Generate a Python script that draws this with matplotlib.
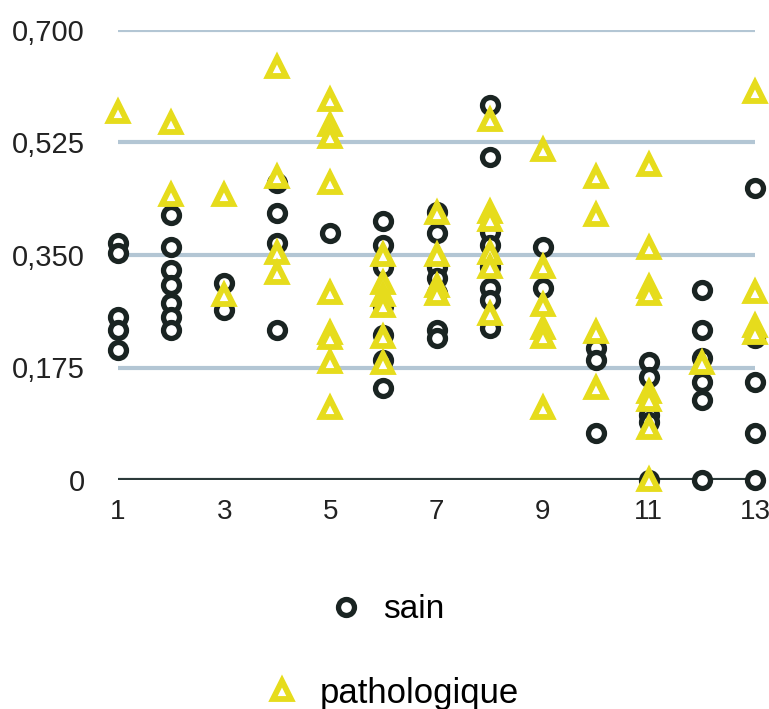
import matplotlib
matplotlib.use("Agg")
import matplotlib.pyplot as plt
from matplotlib.lines import Line2D

plt.rcParams['font.family'] = ['Liberation Sans', 'DejaVu Sans']

# ---- data ----
sain_x = ([1]*5 + [2]*7 + [3]*2 + [4]*4 + [5]*1 + [6]*7 + [7]*7 + [8]*8 +
          [9]*2 + [10]*3 + [11]*5 + [12]*6 + [13]*5)
sain_y = [0.369, 0.353, 0.254, 0.233, 0.202,
          0.412, 0.362, 0.327, 0.303, 0.275, 0.254, 0.233,
          0.306, 0.264,
          0.462, 0.415, 0.369, 0.233,
          0.384,
          0.403, 0.366, 0.332, 0.270, 0.226, 0.187, 0.143,
          0.417, 0.384, 0.332, 0.314, 0.291, 0.233, 0.221,
          0.583, 0.503, 0.386, 0.366, 0.332, 0.299, 0.280, 0.236,
          0.363, 0.299,
          0.205, 0.187, 0.073,
          0.184, 0.161, 0.101, 0.091, 0.0,
          0.296, 0.233, 0.190, 0.152, 0.124, 0.0,
          0.454, 0.221, 0.152, 0.073, 0.0]

patho_x = ([1]*1 + [2]*2 + [3]*2 + [4]*4 + [5]*9 + [6]*6 + [7]*4 + [8]*6 +
           [9]*6 + [10]*4 + [11]*8 + [12]*1 + [13]*4)
patho_y = [0.573,
           0.555, 0.443,
           0.443, 0.288,
           0.643, 0.472, 0.353, 0.322,
           0.591, 0.552, 0.534, 0.462, 0.291, 0.229, 0.221, 0.184, 0.112,
           0.350, 0.306, 0.288, 0.270, 0.223, 0.182,
           0.415, 0.350, 0.302, 0.290,
           0.560, 0.417, 0.404, 0.353, 0.332, 0.259,
           0.513, 0.332, 0.272, 0.236, 0.222, 0.112,
           0.472, 0.412, 0.230, 0.143,
           0.490, 0.361, 0.300, 0.290, 0.137, 0.124, 0.081, 0.0,
           0.182,
           0.604, 0.293, 0.240, 0.228]

y_ticks = [0, 0.175, 0.350, 0.525, 0.700]
y_labels = ['0', '0,175', '0,350', '0,525', '0,700']
x_ticks = [1, 3, 5, 7, 9, 11, 13]
series_names = ['sain', 'pathologique']

# ---- styling ----
dark = '#1a2422'
yellow = '#e6dc1c'
grid_col = '#b3c6d4'

fig = plt.figure(figsize=(7.69, 7.09), dpi=100)
ax = fig.add_axes([118/769, 1-480/709, (755-118)/769, 450/709])

ax.set_xlim(1, 13)
ax.set_ylim(0, 0.7)
for s in ax.spines.values():
    s.set_visible(False)

for yv in y_ticks[1:]:
    ax.axhline(yv, color=grid_col, lw=3, zorder=1)
ax.axhline(0, color='#2c3a3a', lw=3, zorder=1)

ax.plot(sain_x, sain_y, linestyle='none', marker='o', ms=11.5,
        mfc='white', mec=dark, mew=3.8, zorder=3, clip_on=False)
ax.plot(patho_x, patho_y, linestyle='none', marker='^', ms=13,
        mfc='white', mec=yellow, mew=4.2, zorder=4, clip_on=False)

ax.set_yticks(y_ticks)
ax.set_yticklabels(y_labels)
ax.set_xticks(x_ticks)
ax.tick_params(axis='both', length=0, colors='#222222')
ax.tick_params(axis='y', pad=24, labelsize=21)
ax.tick_params(axis='x', pad=14, labelsize=20)

h1 = Line2D([], [], linestyle='none', marker='o', ms=11.5, mfc='white',
            mec=dark, mew=3.8)
h2 = Line2D([], [], linestyle='none', marker='^', ms=13, mfc='white',
            mec=yellow, mew=4.2)
fig.legend([h1], [series_names[0]], loc='center', bbox_to_anchor=(387/769, 1-610/709),
           frameon=False, fontsize=24, handletextpad=0.6, handlelength=1.0)
fig.legend([h2], [series_names[1]], loc='center', bbox_to_anchor=(392/769, 1-693/709),
           frameon=False, fontsize=25, handletextpad=0.6, handlelength=1.0)

fig.savefig('out.png', dpi=100, facecolor='white')
